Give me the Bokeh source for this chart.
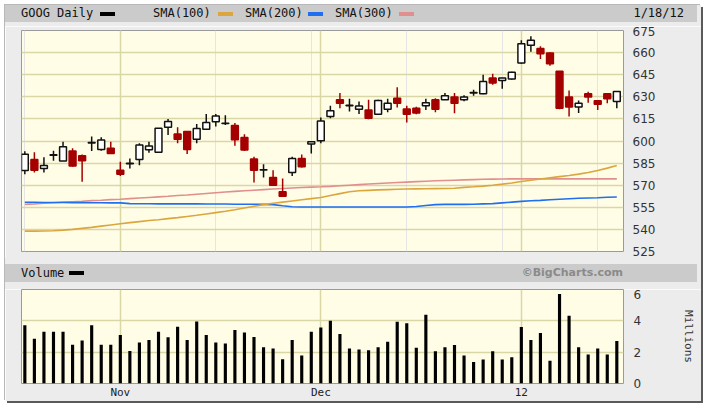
import math
from bokeh.plotting import figure
from bokeh.models import Range1d, FixedTicker, Div, Grid, ColumnDataSource
from bokeh.layouts import column
from bokeh.embed import file_html
from bokeh.resources import INLINE

# ---------------- data (GOOG daily, 2011-10-18 .. 2012-01-18) ----------------
dates = ["10/18", "10/19", "10/20", "10/21", "10/24", "10/25", "10/26", "10/27", "10/28", "10/31",
         "11/01", "11/02", "11/03", "11/04", "11/07", "11/08", "11/09", "11/10", "11/11", "11/14",
         "11/15", "11/16", "11/17", "11/18", "11/21", "11/22", "11/23", "11/25", "11/28", "11/29",
         "11/30", "12/01", "12/02", "12/05", "12/06", "12/07", "12/08", "12/09", "12/12", "12/13",
         "12/14", "12/15", "12/16", "12/19", "12/20", "12/21", "12/22", "12/23", "12/27", "12/28",
         "12/29", "12/30", "01/03", "01/04", "01/05", "01/06", "01/09", "01/10", "01/11", "01/12",
         "01/13", "01/17", "01/18"]
opens = [580.0, 587.5, 581.4, 590.3, 586.4, 593.2, 590.0, 598.7, 594.3, 595.0,
         580.2, 584.6, 587.5, 594.0, 592.3, 609.3, 604.8, 606.4, 601.2, 608.0,
         613.0, 611.8, 610.5, 602.3, 587.7, 580.3, 575.3, 565.5, 578.6, 588.2,
         598.0, 600.2, 616.6, 628.0, 624.0, 621.6, 621.1, 618.2, 621.6, 629.1,
         621.8, 622.3, 624.0, 628.0, 628.0, 629.8, 628.0, 632.6, 632.0, 642.7,
         641.1, 642.0, 653.0, 665.0, 662.7, 659.8, 647.3, 629.8, 623.0, 632.0,
         627.3, 632.0, 626.8]
highs = [593.0, 592.3, 588.9, 593.4, 599.5, 595.0, 590.8, 603.0, 602.5, 599.5,
         585.9, 588.2, 598.4, 599.5, 608.8, 615.0, 609.3, 606.8, 611.6, 618.4,
         618.4, 617.5, 612.3, 604.6, 589.3, 584.3, 580.2, 574.6, 589.3, 590.9,
         600.0, 615.9, 623.9, 632.5, 628.6, 626.8, 628.0, 628.0, 628.6, 636.4,
         623.9, 623.2, 628.6, 629.0, 632.5, 632.5, 631.0, 634.8, 645.0, 645.7,
         643.0, 647.0, 668.4, 671.1, 664.3, 660.3, 647.5, 634.3, 627.5, 633.5,
         627.6, 632.2, 634.0]
lows = [577.5, 578.6, 578.6, 586.6, 586.4, 582.5, 572.3, 593.2, 593.4, 591.1,
        576.3, 581.4, 583.6, 592.0, 591.8, 604.0, 598.4, 591.1, 598.4, 607.5,
        609.8, 610.9, 596.7, 593.2, 571.8, 575.3, 569.8, 562.0, 576.3, 582.0,
        591.6, 598.4, 615.4, 622.3, 620.0, 618.4, 614.8, 617.8, 619.5, 622.7,
        612.5, 618.2, 621.0, 619.5, 627.8, 618.9, 627.0, 630.7, 631.8, 638.2,
        635.5, 641.5, 652.5, 660.5, 655.7, 651.0, 621.5, 616.6, 619.0, 626.0,
        621.0, 625.7, 622.3]
closes = [591.0, 580.2, 583.4, 590.6, 596.1, 583.0, 586.6, 599.0, 600.7, 591.6,
          577.5, 584.9, 597.3, 596.6, 608.6, 613.2, 601.2, 594.3, 608.4, 612.5,
          617.0, 612.0, 600.9, 593.9, 580.2, 580.5, 570.0, 562.5, 588.2, 582.5,
          599.5, 613.6, 620.5, 625.7, 624.2, 623.7, 615.5, 627.5, 625.7, 625.7,
          618.2, 619.0, 626.0, 621.6, 630.7, 625.7, 629.8, 633.0, 640.4, 639.3,
          642.7, 646.6, 666.0, 668.4, 659.3, 652.5, 622.3, 623.0, 625.7, 629.8,
          625.0, 628.6, 633.6]
sma100 = [538.8, 538.8, 538.9, 539.1, 539.5, 540.0, 540.7, 541.4, 542.2, 543.0,
          543.8, 544.6, 545.3, 546.0, 546.6, 547.3, 548.0, 548.8, 549.6, 550.5,
          551.4, 552.3, 553.3, 554.5, 555.7, 556.8, 557.7, 558.5, 559.3, 560.1,
          560.9, 561.7, 563.0, 564.3, 565.6, 566.2, 566.5, 566.8, 567.0, 567.2,
          567.4, 567.5, 567.6, 567.7, 567.8, 567.9, 568.5, 568.9, 569.4, 570.0,
          570.7, 571.5, 572.5, 573.4, 574.2, 575.0, 575.8, 576.6, 577.5, 578.6,
          580.0, 581.6, 583.4]
sma200 = [558.4, 558.4, 558.3, 558.3, 558.3, 558.2, 558.2, 558.1, 558.1, 558.0,
          558.0, 557.5, 557.4, 557.4, 557.3, 557.3, 557.3, 557.3, 557.3, 557.2,
          557.2, 557.2, 557.1, 557.1, 557.1, 557.0, 556.8, 556.0, 555.4, 555.2,
          555.2, 555.2, 555.2, 555.2, 555.2, 555.2, 555.2, 555.2, 555.2, 555.2,
          555.2, 555.5, 556.2, 556.8, 557.0, 557.0, 557.0, 557.1, 557.3, 557.5,
          558.0, 558.5, 559.0, 559.4, 559.7, 560.1, 560.5, 560.8, 561.1, 561.3,
          561.5, 561.8, 562.0]
sma300 = [557.0, 557.3, 557.7, 558.1, 558.5, 558.8, 559.1, 559.5, 559.8, 560.2,
          560.5, 560.9, 561.3, 561.7, 562.1, 562.5, 563.0, 563.4, 563.9, 564.4,
          564.9, 565.4, 565.8, 566.2, 566.6, 567.0, 567.4, 567.8, 568.1, 568.4,
          568.7, 568.9, 569.2, 569.6, 570.0, 570.4, 570.8, 571.2, 571.5, 571.8,
          572.1, 572.4, 572.7, 573.0, 573.2, 573.4, 573.6, 573.8, 574.0, 574.1,
          574.2, 574.3, 574.3, 574.3, 574.3, 574.3, 574.3, 574.3, 574.3, 574.3,
          574.3, 574.3, 574.3]
volume_m = [3.72, 2.86, 3.31, 3.31, 3.31, 2.47, 2.75, 3.72, 2.47, 2.47,
            3.10, 2.08, 2.62, 2.77, 3.31, 2.95, 3.63, 2.77, 3.95, 3.10,
            2.62, 2.56, 3.42, 3.25, 2.97, 2.32, 2.24, 1.55, 2.77, 1.79,
            3.31, 3.57, 4.00, 3.16, 2.24, 2.17, 2.13, 2.32, 2.66, 3.94,
            3.85, 2.28, 4.39, 2.06, 2.32, 2.45, 1.79, 1.38, 1.53, 2.06,
            1.53, 1.68, 3.61, 2.77, 3.23, 1.46, 5.72, 4.32, 2.32, 1.85,
            2.24, 1.85, 2.71]
month_ticks = [10, 31, 52]
month_labels = ["Nov", "Dec", "12"]
price_ticks = [525, 540, 555, 570, 585, 600, 615, 630, 645, 660, 675]
volume_ticks = [0, 2, 4, 6]
last_date = "1/18/12"

# ---------------- styling ----------------
PANEL = "#ececec"
STRIP = "#cbcbcb"
PLOT_BG = "#fffde6"
GRID = "#dad7a6"
UP_FILL = "#ffffff"
DOWN = "#a50000"
C100 = "#dba63e"
C200 = "#1f6ff0"
C300 = "#e08e8e"
MONO = "DejaVu Sans Mono"
SANS = "DejaVu Sans"
INNER_W = 696

x = list(range(len(dates)))
up = [c >= o for o, c in zip(opens, closes)]
src = ColumnDataSource(dict(
    x=x, date=dates, high=highs, low=lows,
    top=[max(o, c) for o, c in zip(opens, closes)],
    bottom=[min(o, c) for o, c in zip(opens, closes)],
    fill=[UP_FILL if u else DOWN for u in up],
    line=["#111111" if u else DOWN for u in up],
    vol=volume_m,
))

xr = Range1d(-0.35, 62.7)


def style_right_axis(a):
    a.axis_line_color = None
    a.major_tick_line_color = None
    a.minor_tick_line_color = None
    a.major_tick_out = 0
    a.major_tick_in = 0
    a.minor_tick_out = 0
    a.minor_tick_in = 0
    a.major_label_standoff = 9
    a.major_label_text_font = SANS
    a.major_label_text_font_size = "12px"
    a.major_label_text_color = "#333333"


# ---------------- price panel ----------------
p = figure(frame_width=602, frame_height=221, x_range=xr, y_range=Range1d(525, 675),
           output_backend="svg", toolbar_location=None, x_axis_location=None,
           y_axis_location="right", min_border_left=16, min_border_right=78,
           min_border_top=4, min_border_bottom=7)
p.background_fill_color = PLOT_BG
p.border_fill_color = PANEL
p.outline_line_color = "#9a9a9a"
p.yaxis.ticker = FixedTicker(ticks=price_ticks)
p.ygrid.ticker = FixedTicker(ticks=price_ticks)
p.ygrid.grid_line_color = GRID
p.ygrid.grid_line_width = 1.5
p.add_layout(Grid(dimension=0, ticker=FixedTicker(ticks=month_ticks),
                  grid_line_color=GRID, grid_line_width=1.5))
style_right_axis(p.yaxis[0])

p.line("x", "y", source=ColumnDataSource(dict(x=x, y=sma300)), color=C300, line_width=1.6)
p.line("x", "y", source=ColumnDataSource(dict(x=x, y=sma200)), color=C200, line_width=1.6)
p.line("x", "y", source=ColumnDataSource(dict(x=x, y=sma100)), color=C100, line_width=1.6)
p.segment("x", "high", "x", "low", source=src, line_color="line", line_width=1.5)
p.vbar("x", width=0.72, top="top", bottom="bottom", source=src,
       fill_color="fill", line_color="line", line_width=1.5)

# ---------------- volume panel ----------------
v = figure(frame_width=602, frame_height=94, x_range=xr, y_range=Range1d(0, 6),
           output_backend="svg", toolbar_location=None, y_axis_location="right",
           min_border_left=16, min_border_right=78, min_border_top=0, min_border_bottom=17)
v.background_fill_color = PLOT_BG
v.border_fill_color = PANEL
v.outline_line_color = "#9a9a9a"
xa = v.xaxis[0]
xa.ticker = FixedTicker(ticks=month_ticks)
xa.major_label_overrides = {t: l for t, l in zip(month_ticks, month_labels)}
xa.axis_line_color = None
xa.major_tick_line_color = None
xa.minor_tick_line_color = None
xa.major_tick_out = 0
xa.major_tick_in = 0
xa.minor_tick_out = 0
xa.minor_tick_in = 0
xa.major_label_standoff = 2
xa.major_label_text_font = MONO
xa.major_label_text_font_size = "11px"
xa.major_label_text_color = "#222222"
v.xgrid.grid_line_color = GRID
v.xgrid.grid_line_width = 1.5
v.yaxis.ticker = FixedTicker(ticks=volume_ticks)
v.ygrid.grid_line_color = GRID
v.ygrid.grid_line_width = 1.5
vy = v.yaxis[0]
style_right_axis(vy)
vy.major_label_standoff = 10
vy.axis_label = "Millions"
vy.axis_label_text_font = MONO
vy.axis_label_text_font_size = "11px"
vy.axis_label_text_font_style = "normal"
vy.axis_label_text_color = "#333333"
vy.axis_label_standoff = 38
v.vbar("x", width=0.33, top="vol", bottom=0, source=src, fill_color="#000000", line_color=None)

# ---------------- header strips ----------------
def swatch(left, color, top=7):
    return (f'<span style="position:absolute;left:{left}px;top:{top}px;width:15px;height:4px;'
            f'background:{color};"></span>')


def lbl(left, text):
    return f'<span style="position:absolute;left:{left}px;top:0px;">{text}</span>'


hdr1_html = (
    f'<div style="position:relative;width:{INNER_W}px;height:21px;background:{PANEL};">'
    f'<div style="position:absolute;left:0px;top:0px;width:692px;height:17px;background:{STRIP};'
    f'font-family:\'{MONO}\';font-size:12px;line-height:17px;color:#111;">'
    + lbl(16, "GOOG Daily") + swatch(95, "#000000")
    + lbl(148, "SMA(100)") + swatch(213, C100)
    + lbl(240, "SMA(200)") + swatch(303, C200)
    + lbl(330, "SMA(300)") + swatch(394, C300)
    + f'<span style="position:absolute;right:13px;top:0px;">{last_date}</span>'
    '</div></div>'
)
hdr2_html = (
    f'<div style="position:relative;width:{INNER_W}px;height:31px;background:{PANEL};">'
    f'<div style="position:absolute;left:0px;top:6px;width:692px;height:18px;background:{STRIP};'
    f'font-family:\'{MONO}\';font-size:12px;line-height:18px;color:#111;">'
    + lbl(16, "Volume") + swatch(64, "#000000")
    + f'<span style="position:absolute;right:74px;top:0px;font-family:\'{SANS}\';font-weight:bold;'
      f'font-size:11px;color:#8a8a8a;">&copy;BigCharts.com</span>'
    '</div></div>'
)
hdr1 = Div(text=hdr1_html, width=INNER_W, height=21, styles={"margin": "0", "padding": "0"})
hdr2 = Div(text=hdr2_html, width=INNER_W, height=31, styles={"margin": "0", "padding": "0"})

layout = column(hdr1, p, hdr2, v, spacing=0, margin=(5, 0, 0, 5),
                styles={"box-shadow": "2px 2px 0 #5a5a5a, -1px -1px 0 #b8b8b8"})

with open("out.html", "w") as f:
    f.write(file_html(layout, INLINE))
